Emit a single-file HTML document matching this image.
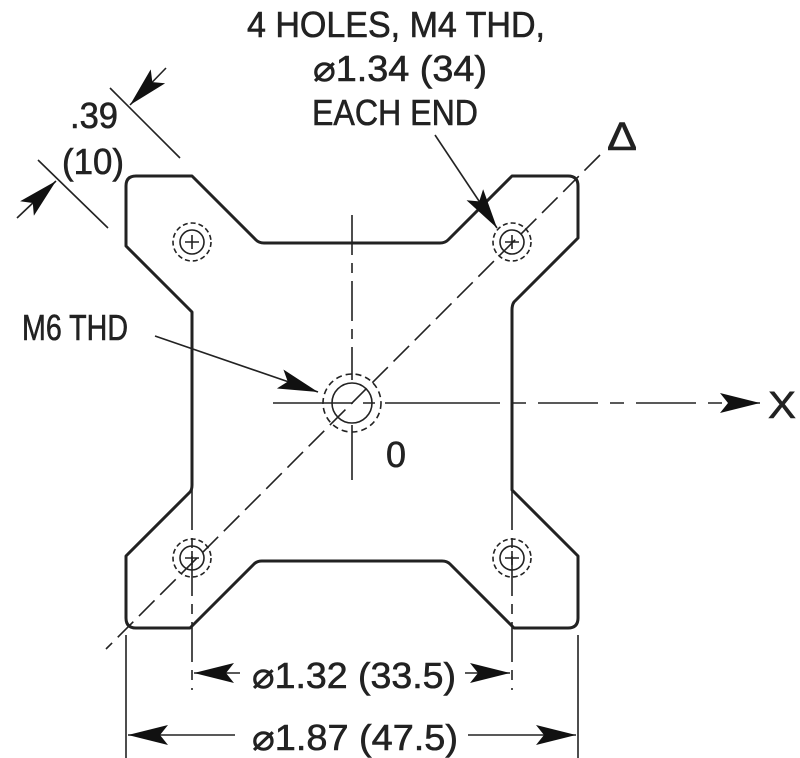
<!DOCTYPE html>
<html><head><meta charset="utf-8"><style>html,body{margin:0;padding:0;background:#fff}svg{display:block}</style></head>
<body>
<svg width="800" height="758" viewBox="0 0 800 758" xmlns="http://www.w3.org/2000/svg" font-family="Liberation Sans, sans-serif" fill="#222">
<defs>
<marker id="a" viewBox="0 0 20 10" refX="20" refY="5" markerWidth="40" markerHeight="20" markerUnits="userSpaceOnUse" orient="auto"><path d="M0,0 L20,5 L0,10 L4,5 Z" fill="#111"/></marker>
</defs>
<g stroke="#222" fill="none">
<path d="M136,176 H192 L256,240 Q259,243 264,243 H440 Q445,243 448,240 L512,176 H568 Q578,176 578,186 V238 L514,302 Q512,305 512,310 V490 L578,556 V618 Q578,628 568,628 H514 L450,564 Q447,561 442,561 H262 Q257,561 254,564 L190,628 H136 Q126,628 126,618 V556 L190,492 Q192,490 192,485 V312 L126,246 V186 Q126,176 136,176 Z" stroke-width="3" stroke-linejoin="round"/>
<g stroke-width="1.6">
<line x1="600" y1="155" x2="106" y2="649" stroke-dasharray="22,8"/>
<line x1="352" y1="215" x2="352" y2="380" stroke-dasharray="40,8,10,8"/>
<line x1="352" y1="425" x2="352" y2="480"/>
<line x1="273" y1="403" x2="440" y2="403" stroke-dasharray="80,10,12,10"/>
<line x1="440" y1="403" x2="760" y2="403" stroke-dasharray="60,12,14,12" marker-end="url(#a)"/>
<line x1="192" y1="490" x2="192" y2="690" stroke-dasharray="40,8,10,8"/>
<line x1="512" y1="490" x2="512" y2="690" stroke-dasharray="40,8,10,8"/>
<line x1="126" y1="635" x2="126" y2="758"/>
<line x1="578" y1="635" x2="578" y2="758"/>
<line x1="110" y1="88" x2="180" y2="158"/>
<line x1="38" y1="160" x2="108" y2="228"/>
<line x1="166" y1="68" x2="130" y2="105" marker-end="url(#a)"/>
<line x1="17" y1="218" x2="56" y2="181" marker-end="url(#a)"/>
<line x1="435" y1="135" x2="497" y2="228" marker-end="url(#a)"/>
<line x1="155" y1="336" x2="318" y2="392" marker-end="url(#a)"/>
<line x1="240" y1="673" x2="194" y2="673" marker-end="url(#a)"/>
<line x1="465" y1="673" x2="510" y2="673" marker-end="url(#a)"/>
<line x1="235" y1="735" x2="128" y2="735" marker-end="url(#a)"/>
<line x1="468" y1="735" x2="576" y2="735" marker-end="url(#a)"/>
<circle cx="352" cy="403" r="20"/>
<circle cx="352" cy="403" r="29" stroke-dasharray="6,4"/>
</g>
<g stroke-width="1.6">
<circle cx="192" cy="242" r="12"/><circle cx="192" cy="242" r="19" stroke-dasharray="5,3"/><path d="M185,242h14M192,235v14"/>
<circle cx="512" cy="242" r="12"/><circle cx="512" cy="242" r="19" stroke-dasharray="5,3"/><path d="M505,242h14M512,235v14"/>
<circle cx="192" cy="558" r="12"/><circle cx="192" cy="558" r="19" stroke-dasharray="5,3"/><path d="M185,558h14M192,551v14"/>
<circle cx="512" cy="558" r="12"/><circle cx="512" cy="558" r="19" stroke-dasharray="5,3"/><path d="M505,558h14M512,551v14"/>
</g>
</g>
<g font-size="36" stroke="#222" stroke-width="0.6">
<text x="247" y="37" textLength="298" lengthAdjust="spacingAndGlyphs">4 HOLES, M4 THD,</text>
<text x="313" y="81" textLength="174" lengthAdjust="spacingAndGlyphs">⌀1.34 (34)</text>
<text x="312" y="125" textLength="166" lengthAdjust="spacingAndGlyphs">EACH END</text>
<text x="70" y="128" textLength="48" lengthAdjust="spacingAndGlyphs">.39</text>
<text x="62" y="174" textLength="62" lengthAdjust="spacingAndGlyphs">(10)</text>
<text x="22" y="340" textLength="106" lengthAdjust="spacingAndGlyphs">M6 THD</text>
<text x="386" y="467" textLength="20" lengthAdjust="spacingAndGlyphs">0</text>
<text x="768" y="418" font-size="38" textLength="28" lengthAdjust="spacingAndGlyphs">X</text>
<text x="607" y="150" font-size="40" textLength="30" lengthAdjust="spacingAndGlyphs">Δ</text>
<text x="252" y="688" textLength="204" lengthAdjust="spacingAndGlyphs">⌀1.32 (33.5)</text>
<text x="252" y="750" textLength="206" lengthAdjust="spacingAndGlyphs">⌀1.87 (47.5)</text>
</g>
</svg>
</body></html>
